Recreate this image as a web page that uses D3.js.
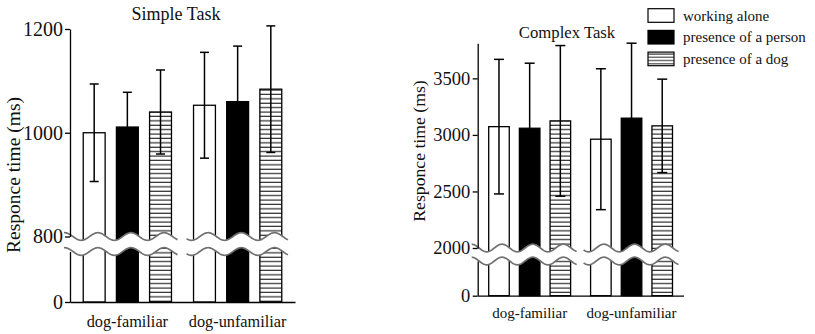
<!DOCTYPE html>
<html>
<head>
<meta charset="utf-8">
<script src="https://cdn.jsdelivr.net/npm/d3@7"></script>
<style>
body { margin: 0; background: #fff; }
text { font-family: "Liberation Serif", "Times New Roman", serif; fill: #111; }
</style>
</head>
<body>
<svg id="chart" width="815" height="334"></svg>
<script>
const groups = ["dog-familiar", "dog-unfamiliar"]
const conditions = ["working alone", "presence of a person", "presence of a dog"]

// response times in ms, one row per group, columns in condition order
const simple_means = [[1000, 1011, 1040], [1053, 1060, 1084]]
const simple_errs = [[94, 67, 81], [102, 107, 122]]
const simple_ticks = [800, 1000, 1200]

const complex_means = [[3073, 3059, 3124], [2962, 3148, 3080]]
const complex_errs = [[595, 575, 666], [623, 663, 413]]
const complex_ticks = [2000, 2500, 3000, 3500]

const fills = { "working alone": "#fff", "presence of a person": "#000", "presence of a dog": "url(#hatch)" }

const svg = d3.select('#chart')

const defs = svg.append('defs')
const hatch = defs.append('pattern')
    .attr('id', 'hatch')
    .attr('patternUnits', 'userSpaceOnUse')
    .attr('width', 8)
    .attr('height', 4.4)
hatch.append('rect').attr('width', 8).attr('height', 4.4).attr('fill', '#fff')
hatch.append('line').attr('x1', 0).attr('x2', 8).attr('y1', 2).attr('y2', 2)
    .attr('stroke', '#000').attr('stroke-width', 1)

const hatch_small = defs.append('pattern')
    .attr('id', 'hatch-small')
    .attr('patternUnits', 'userSpaceOnUse')
    .attr('width', 8)
    .attr('height', 3.2)
hatch_small.append('rect').attr('width', 8).attr('height', 3.2).attr('fill', '#fff')
hatch_small.append('line').attr('x1', 0).attr('x2', 8).attr('y1', 1.6).attr('y2', 1.6)
    .attr('stroke', '#000').attr('stroke-width', 0.9)


function draw_panel(opts) {
    const panel = svg.append('g')

    const x_group = d3.scaleBand()
        .domain(groups)
        .range([opts.left, opts.right])
        .paddingInner(opts.group_pad_inner)
        .paddingOuter(opts.group_pad_outer)
    const x_cond = d3.scaleBand()
        .domain(conditions)
        .range([0, x_group.bandwidth()])
        .paddingInner(opts.bar_pad)

    // broken axis: upper part carries the data, lower part only holds 0
    const y_top = d3.scaleLinear().domain(opts.top_domain).range([opts.break_y, opts.top_y])
    const y_bot = d3.scaleLinear().domain([0, opts.top_domain[0]]).range([opts.zero_y, opts.break_y + opts.break_gap])

    let rows = []
    groups.forEach((grp, gi) => {
        conditions.forEach((cond, ci) => {
            rows.push({ grp: grp, cond: cond, mean: opts.means[gi][ci], err: opts.errs[gi][ci] })
        })
    })

    panel.append('g').selectAll('rect')
        .data(rows)
        .enter()
        .append('rect')
        .attr('x', d => x_group(d.grp) + x_cond(d.cond))
        .attr('y', d => y_top(d.mean))
        .attr('width', x_cond.bandwidth())
        .attr('height', d => y_bot(0) - y_top(d.mean))
        .attr('fill', d => fills[d.cond])
        .attr('stroke', '#000')
        .attr('stroke-width', 1.3)

    const err_g = panel.append('g')
        .attr('stroke', '#000')
        .attr('stroke-width', 1.5)
    const cx = d => x_group(d.grp) + x_cond(d.cond) + x_cond.bandwidth() / 2
    err_g.selectAll('.stem')
        .data(rows)
        .enter()
        .append('line')
        .attr('x1', cx).attr('x2', cx)
        .attr('y1', d => y_top(d.mean + d.err))
        .attr('y2', d => y_top(d.mean - d.err))
    err_g.selectAll('.cap-top')
        .data(rows)
        .enter()
        .append('line')
        .attr('x1', d => cx(d) - opts.cap / 2).attr('x2', d => cx(d) + opts.cap / 2)
        .attr('y1', d => y_top(d.mean + d.err)).attr('y2', d => y_top(d.mean + d.err))
    err_g.selectAll('.cap-bot')
        .data(rows)
        .enter()
        .append('line')
        .attr('x1', d => cx(d) - opts.cap / 2).attr('x2', d => cx(d) + opts.cap / 2)
        .attr('y1', d => y_top(d.mean - d.err)).attr('y2', d => y_top(d.mean - d.err))

    // wavy break band across each group
    const period = x_cond.step()
    const amp = opts.wave_amp
    const break_g = panel.append('g')
    groups.forEach((grp, gi) => {
        const x0 = gi == 0 ? opts.left - 6 : x_group(grp) - 7
        const x1 = x_group(grp) + x_group.bandwidth() + 6
        const x_t = x_group(grp) - 2
        const xs = d3.range(x0, x1 + 0.5, 0.5)
        const wave = base => xs.map(x => [x, base + amp * Math.cos(2 * Math.PI * (x - x_t) / period)])
        const top_wave = wave(opts.break_y)
        const bot_wave = wave(opts.break_y + opts.break_gap)

        break_g.append('path')
            .attr('d', d3.line()(top_wave.concat(bot_wave.slice().reverse())) + 'Z')
            .attr('fill', '#fff')
        break_g.append('path')
            .attr('d', d3.line()(top_wave))
            .attr('fill', 'none').attr('stroke', '#707070').attr('stroke-width', 1.7)
        break_g.append('path')
            .attr('d', d3.line()(bot_wave))
            .attr('fill', 'none').attr('stroke', '#707070').attr('stroke-width', 1.7)
    })

    const style_axis = (sel, size) => {
        sel.attr('font-family', '"Liberation Serif", "Times New Roman", serif')
            .attr('font-size', size)
        sel.selectAll('path, line').attr('stroke', '#000').attr('stroke-width', 1.3)
        sel.selectAll('text').attr('fill', '#111')
    }

    panel.append('g')
        .attr('transform', `translate(${opts.left},0)`)
        .call(d3.axisLeft(y_top).tickValues(opts.ticks).tickFormat(d3.format('d'))
            .tickSize(5).tickSizeOuter(0).tickPadding(opts.tick_pad))
        .call(sel => style_axis(sel, opts.tick_font))
    panel.append('g')
        .attr('transform', `translate(${opts.left},0)`)
        .call(d3.axisLeft(y_bot).tickValues([0]).tickFormat(d3.format('d'))
            .tickSize(5).tickSizeOuter(0).tickPadding(opts.tick_pad))
        .call(sel => style_axis(sel, opts.tick_font))
    panel.append('g')
        .attr('transform', `translate(0,${opts.zero_y})`)
        .call(d3.axisBottom(x_group).tickSize(0).tickSizeOuter(0).tickPadding(opts.cat_pad))
        .call(sel => style_axis(sel, opts.cat_font))

    panel.append('text')
        .attr('transform', `translate(${opts.ylab_x},${opts.ylab_y}) rotate(-90)`)
        .attr('text-anchor', 'middle')
        .attr('font-size', opts.ylab_font)
        .text('Responce time (ms)')

    panel.append('text')
        .attr('x', opts.title_x)
        .attr('y', opts.title_y)
        .attr('text-anchor', 'middle')
        .attr('font-size', opts.title_font)
        .text(opts.title)
}

draw_panel({
    title: 'Simple Task', title_x: 176, title_y: 19.5, title_font: 18,
    means: simple_means, errs: simple_errs, ticks: simple_ticks,
    left: 70, right: 295, group_pad_inner: 0.2, group_pad_outer: 0.12, bar_pad: 0.34,
    top_domain: [800, 1200], top_y: 29, break_y: 236.5, break_gap: 15, zero_y: 302,
    wave_amp: 3.8, cap: 9,
    tick_font: 20, tick_pad: 2, cat_font: 16.3, cat_pad: 13.5,
    ylab_x: 20, ylab_y: 175, ylab_font: 19.5
})

draw_panel({
    title: 'Complex Task', title_x: 567, title_y: 38, title_font: 16.7,
    means: complex_means, errs: complex_errs, ticks: complex_ticks,
    left: 477.7, right: 683.5, group_pad_inner: 0.196, group_pad_outer: 0.108, bar_pad: 0.33,
    top_domain: [2000, 3810], top_y: 43.3, break_y: 248, break_gap: 13, zero_y: 295.7,
    wave_amp: 3.8, cap: 10,
    tick_font: 18.5, tick_pad: 2.5, cat_font: 15, cat_pad: 12,
    ylab_x: 425, ylab_y: 151, ylab_font: 17.7
})

// legend
const legend = svg.append('g').attr('transform', 'translate(648,0)')
const legend_fills = { "working alone": "#fff", "presence of a person": "#000", "presence of a dog": "url(#hatch-small)" }
const legend_rows = legend.selectAll('g')
    .data(conditions)
    .enter()
    .append('g')
    .attr('transform', (d, i) => `translate(0,${15.5 + i * 21.7})`)
legend_rows.append('rect')
    .attr('x', 0).attr('y', -6.8)
    .attr('width', 26).attr('height', 13.6)
    .attr('fill', d => legend_fills[d])
    .attr('stroke', '#000').attr('stroke-width', 1.2)
legend_rows.append('text')
    .attr('x', 35).attr('y', 5)
    .attr('font-size', 15)
    .text(d => d)
</script>
</body>
</html>
